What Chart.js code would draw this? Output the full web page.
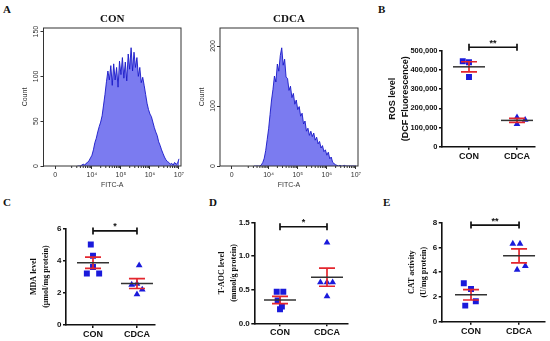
<!DOCTYPE html>
<html>
<head>
<meta charset="utf-8">
<style>
  body { margin: 0; background: #fff; }
  #fig { position: relative; width: 550px; height: 341px; overflow: hidden; background: #fff; }
  #fig canvas { position: absolute; }
  .lbl { position: absolute; font: bold 11px "Liberation Serif", serif; color: #111; line-height: 1; }
</style>
</head>
<body>
<div id="fig">
  <div class="lbl" style="left:3px;top:4px">A</div>
  <div class="lbl" style="left:378px;top:4px">B</div>
  <div class="lbl" style="left:3px;top:197px">C</div>
  <div class="lbl" style="left:209px;top:197px">D</div>
  <div class="lbl" style="left:383px;top:197px">E</div>
  <canvas id="histCon" width="190" height="195" style="left:0px;top:0px"></canvas>
  <canvas id="histCdca" width="190" height="195" style="left:185px;top:0px"></canvas>
  <canvas id="ros" width="165" height="140" style="left:385px;top:30px"></canvas>
  <canvas id="mda" width="146" height="141" style="left:24px;top:200px"></canvas>
  <canvas id="taoc" width="148" height="146" style="left:212px;top:195px"></canvas>
  <canvas id="cat" width="150" height="146" style="left:400px;top:195px"></canvas>
</div>

<script src="https://cdn.jsdelivr.net/npm/chart.js"></script>

<script>
  // flow histograms, FITC-A channel (log decades), first bin and bin width
  const histStart = 3.5
  const histStep = 0.05
  const conCounts = [0, 0, 0, 1, 2, 1, 3, 4, 6, 9,
    12, 18, 26, 31, 38, 44, 49, 56, 68, 80,
    94, 106, 96, 112, 90, 114, 96, 110, 88, 117,
    102, 121, 98, 116, 95, 125, 108, 132, 106, 127,
    110, 121, 100, 110, 93, 99, 90, 80, 70, 63,
    58, 55, 49, 43, 38, 34, 27, 23, 18, 14,
    10, 7, 5, 4, 2, 3, 1, 4, 2, 3, 8]
  const cdcaCounts = [0, 0, 0, 0, 0, 2, 6, 13, 26, 44,
    62, 86, 110, 128, 150, 140, 170, 158, 184, 197,
    168, 178, 148, 146, 126, 133, 114, 121, 103, 110,
    94, 99, 83, 88, 70, 75, 58, 63, 51, 58,
    49, 55, 43, 48, 37, 41, 30, 34, 24, 27,
    18, 23, 12, 15, 6, 4, 2, 1, 0, 1,
    0, 0, 1, 0, 0, 0, 0, 0, 0, 0, 0]
  const fitcTicks = [2.73, 4, 5, 6, 7]
  const fitcLabels = ['0', '10⁴', '10⁵', '10⁶', '10⁷']

  // dot plots
  const groups = ['CON', 'CDCA']
  const rosCon = [445000, 440000, 363000]
  const rosCdca = [153000, 118000, 140000]
  const mdaCon = [5.0, 4.3, 3.6, 3.2, 3.2]
  const mdaCdca = [3.7, 2.5, 2.2, 1.9, 2.55]
  const taocCon = [0.47, 0.47, 0.34, 0.21, 0.25]
  const taocCdca = [1.2, 0.61, 0.61, 0.61, 0.4]
  const catCon = [3.1, 2.65, 1.3, 1.65]
  const catCdca = [6.3, 6.3, 4.2, 4.5]

  // horizontal scatter of the dots around each group
  const rosConJit = [-0.13, 0, 0]
  const rosCdcaJit = [0, 0, 0.17]
  const mdaConJit = [-0.05, 0, 0, -0.14, 0.14]
  const mdaCdcaJit = [0.05, -0.12, 0.12, 0, 0]
  const taocConJit = [-0.07, 0.07, -0.05, 0, 0.04]
  const taocCdcaJit = [0, -0.14, 0, 0.12, 0]
  const catConJit = [-0.15, 0, -0.12, 0.1]
  const catCdcaJit = [-0.13, 0.02, -0.04, 0.13]

  const SANS = 'Liberation Sans'
  const SERIF = 'Liberation Serif'
  const BLUE = '#1a1adb'

  // box round the histogram + log minor ticks
  const histFrame = {
    id: 'histFrame',
    afterDraw(chart) {
      const {ctx, chartArea: a, scales: {x}} = chart
      ctx.save()
      ctx.strokeStyle = '#333'
      ctx.lineWidth = 1
      ctx.strokeRect(a.left, a.top, a.right - a.left, a.bottom - a.top)
      ctx.beginPath()
      for (let d = 3; d < 7; d++) {
        for (let k = 2; k < 10; k++) {
          const px = x.getPixelForValue(d + Math.log10(k))
          ctx.moveTo(px, a.bottom)
          ctx.lineTo(px, a.bottom + 2)
        }
      }
      ctx.stroke()
      ctx.restore()
    }
  }

  function histChart(id, counts, yMax, yStep, title, geo) {
    const pts = counts.map((c, i) => ({x: histStart + i * histStep, y: c}))
    return new Chart(document.getElementById(id), {
      type: 'line',
      data: {datasets: [{
        data: pts, fill: 'origin', backgroundColor: '#7b7bf0', borderColor: '#1818c8',
        borderWidth: 0.9, pointRadius: 0, tension: 0
      }]},
      options: {
        responsive: false, animation: false,
        layout: {padding: {top: 0, left: 0, right: geo.pr, bottom: 0}},
        plugins: {
          legend: {display: false}, tooltip: {enabled: false},
          title: {display: true, text: title, fullSize: false, color: '#111',
            font: {family: SERIF, weight: 'bold', size: 11, lineHeight: 1.2},
            padding: {top: 12.4, bottom: 2.4}}
        },
        scales: {
          x: {
            type: 'linear', min: 2.33, max: 7.07,
            afterBuildTicks: s => { s.ticks = fitcTicks.map(v => ({value: v})) },
            ticks: {callback: (v, i) => fitcLabels[i], font: {family: SANS, size: 7}, color: '#333',
              padding: 1.5, maxRotation: 0, autoSkip: false},
            grid: {display: true, drawOnChartArea: false, tickLength: 3, color: '#333'},
            border: {display: false},
            title: {display: true, text: 'FITC-A', color: '#333', font: {family: SANS, size: 7, lineHeight: 1.2},
              padding: {top: 0, bottom: 5.8}},
            afterFit: s => { s.height = geo.xh; s.paddingLeft = 0; s.paddingRight = 0 }
          },
          y: {
            min: 0, max: yMax,
            ticks: {stepSize: yStep, includeBounds: false, minRotation: 90, maxRotation: 90, crossAlign: 'center',
              font: {family: SANS, size: 7}, color: '#333', padding: -1.5},
            grid: {display: true, drawOnChartArea: false, tickLength: 3, color: '#333'},
            border: {display: false},
            title: {display: true, text: 'Count', color: '#333', font: {family: SANS, size: 7, lineHeight: 1.2},
              padding: {top: geo.tp, bottom: 0}},
            afterFit: s => { s.width = geo.yw; s.paddingTop = 0; s.paddingBottom = 0 }
          }
        }
      },
      plugins: [histFrame]
    })
  }

  histChart('histCon', conCounts, 154, 50, 'CON', {pr: 9, xh: 29, yw: 43.5, tp: 20.8})
  histChart('histCdca', cdcaCounts, 230, 100, 'CDCA', {pr: 17, xh: 29, yw: 35, tp: 12.5})

  // mean ± SEM, plus the significance bracket
  const dotStats = {
    id: 'dotStats',
    afterDatasetsDraw(chart) {
      const {ctx, scales: {x, y}} = chart
      chart.data.datasets.forEach((ds, i) => {
        const vals = ds.data.map(p => p.y)
        const n = vals.length
        const mean = vals.reduce((a, b) => a + b, 0) / n
        const sd = Math.sqrt(vals.reduce((a, b) => a + (b - mean) ** 2, 0) / (n - 1))
        const sem = sd / Math.sqrt(n)
        const cx = x.getPixelForValue(i)
        const yHi = y.getPixelForValue(mean + sem)
        const yLo = y.getPixelForValue(mean - sem)
        const yM = y.getPixelForValue(mean)
        ctx.save()
        ctx.strokeStyle = '#e3262e'
        ctx.lineWidth = 1.7
        ctx.beginPath()
        ctx.moveTo(cx, yHi); ctx.lineTo(cx, yLo)
        ctx.moveTo(cx - 8, yHi); ctx.lineTo(cx + 8, yHi)
        ctx.moveTo(cx - 8, yLo); ctx.lineTo(cx + 8, yLo)
        ctx.stroke()
        ctx.strokeStyle = '#333'
        ctx.lineWidth = 1.5
        ctx.beginPath()
        ctx.moveTo(cx - 16, yM); ctx.lineTo(cx + 16, yM)
        ctx.stroke()
        ctx.restore()
      })
    },
    afterDraw(chart, args, opts) {
      const {ctx, scales: {x, y}} = chart
      const x0 = x.getPixelForValue(0)
      const x1 = x.getPixelForValue(1)
      const yb = y.getPixelForValue(opts.level)
      ctx.save()
      ctx.strokeStyle = '#111'
      ctx.lineWidth = 1.7
      ctx.beginPath()
      ctx.moveTo(x0, yb); ctx.lineTo(x1, yb)
      ctx.moveTo(x0, yb - 3.5); ctx.lineTo(x0, yb + 3.5)
      ctx.moveTo(x1, yb - 3.5); ctx.lineTo(x1, yb + 3.5)
      ctx.stroke()
      ctx.fillStyle = '#111'
      ctx.font = 'bold 9px ' + SANS
      ctx.textAlign = 'center'
      ctx.textBaseline = 'alphabetic'
      ctx.fillText(opts.stars, (x0 + x1) / 2, yb - 1.5)
      ctx.restore()
    }
  }

  function dotChart(id, c) {
    const ds = [
      {data: c.con.map((v, k) => ({x: 0 + c.conJit[k], y: v})), pointStyle: 'rect', pointRadius: 4.2},
      {data: c.cdca.map((v, k) => ({x: 1 + c.cdcaJit[k], y: v})), pointStyle: 'triangle', pointRadius: 3.9}
    ]
    ds.forEach(d => { d.backgroundColor = BLUE; d.borderColor = BLUE; d.borderWidth = 0; d.showLine = false })
    return new Chart(document.getElementById(id), {
      type: 'scatter',
      data: {datasets: ds},
      options: {
        responsive: false, animation: false,
        layout: {padding: {top: c.pt, left: 0, right: c.pr, bottom: 0}},
        plugins: {legend: {display: false}, tooltip: {enabled: false},
          dotStats: {level: c.level, stars: c.stars}},
        scales: {
          x: {
            type: 'linear', min: c.xmin, max: c.xmax,
            afterBuildTicks: s => { s.ticks = [{value: 0}, {value: 1}] },
            ticks: {callback: v => groups[v], font: {family: SANS, weight: 'bold', size: 9}, color: '#111',
              padding: c.xpad, maxRotation: 0, autoSkip: false},
            grid: {display: true, drawOnChartArea: false, tickLength: 3, color: '#111', lineWidth: 1.5},
            border: {display: true, color: '#111', width: 1.6},
            afterFit: s => { s.height = c.xh; s.paddingLeft = 0; s.paddingRight = 0 }
          },
          y: {
            min: 0, max: c.ymax,
            ticks: {stepSize: c.ystep, includeBounds: false, callback: c.fmt,
              font: {family: SANS, weight: 'bold', size: c.tickSize}, color: '#111', padding: 1.5},
            grid: {display: true, drawOnChartArea: false, tickLength: 3, color: '#111', lineWidth: 1.5},
            border: {display: true, color: '#111', width: 1.6},
            title: {display: true, text: c.title, color: '#111',
              font: {family: c.titleFont, weight: 'bold', size: c.titleSize, lineHeight: c.titleLh},
              padding: {top: c.tp, bottom: 0}},
            afterFit: s => { s.width = c.yw; s.paddingTop = 0; s.paddingBottom = 0 }
          }
        }
      },
      plugins: [dotStats]
    })
  }

  dotChart('ros', {
    con: rosCon, cdca: rosCdca, conJit: rosConJit, cdcaJit: rosCdcaJit,
    ymax: 500000, ystep: 100000, fmt: v => v.toLocaleString('en-US'), tickSize: 7.5,
    xmin: -0.5625, xmax: 1.375, level: 518000, stars: '**',
    title: ['ROS level', '(DCF Fluorescence)'], titleFont: SANS, titleSize: 9, titleLh: 1.45, tp: 1.3,
    pt: 20.7, pr: 15, xh: 23.3, xpad: 1, yw: 57
  })
  dotChart('mda', {
    con: mdaCon, cdca: mdaCdca, conJit: mdaConJit, cdcaJit: mdaCdcaJit,
    ymax: 6, ystep: 2, fmt: v => String(v), tickSize: 8,
    xmin: -0.614, xmax: 1.41, level: 5.84, stars: '*',
    title: ['MDA level', '(μmol/mg protein)'], titleFont: SERIF, titleSize: 8, titleLh: 1.5, tp: 4,
    pt: 28.3, pr: 15, xh: 16, xpad: 1.5, yw: 42
  })
  dotChart('taoc', {
    con: taocCon, cdca: taocCdca, conJit: taocConJit, cdcaJit: taocCdcaJit,
    ymax: 1.5, ystep: 0.5, fmt: v => v.toFixed(1), tickSize: 8,
    xmin: -0.547, xmax: 1.447, level: 1.437, stars: '*',
    title: ['T-AOC level', '(mmol/g protein)'], titleFont: SERIF, titleSize: 8, titleLh: 1.5, tp: 4,
    pt: 27.5, pr: 12, xh: 17.7, xpad: 1.2, yw: 42.3
  })
  dotChart('cat', {
    con: catCon, cdca: catCdca, conJit: catConJit, cdcaJit: catCdcaJit,
    ymax: 8, ystep: 2, fmt: v => String(v), tickSize: 8,
    xmin: -0.61, xmax: 1.54, level: 7.81, stars: '**',
    title: ['CAT activity', '(U/mg protein)'], titleFont: SERIF, titleSize: 8, titleLh: 1.5, tp: 6,
    pt: 27.7, pr: 5, xh: 19.3, xpad: 1.5, yw: 41.7
  })
</script>
</body>
</html>
